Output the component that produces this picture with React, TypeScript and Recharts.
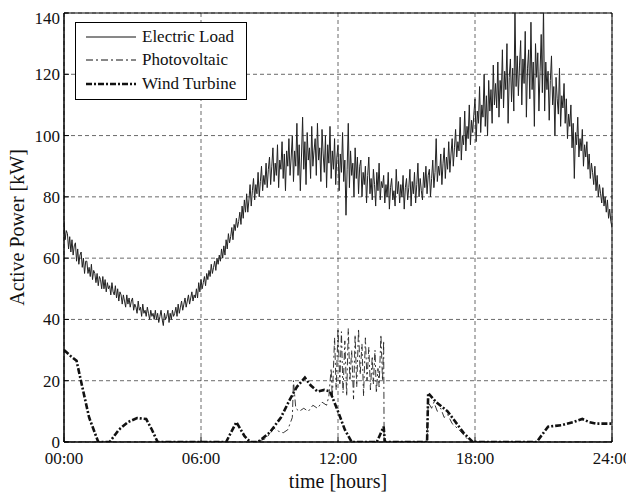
import { LineChart, Line, XAxis, YAxis, CartesianGrid, Legend, ReferenceArea, Label } from "recharts"

// electric load, one value every 3 minutes (20 per hour) from 00:00 to 24:00
const electricLoad = [
  72, 66, 69, 68, 63, 67, 62, 66, 61, 64, 65, 59, 63, 58, 61, 62, 57, 60, 55, 59,
  59, 55, 57, 54, 58, 53, 56, 55, 52, 55, 51, 54, 53, 50, 54, 50, 53, 49, 52, 50,
  51, 48, 52, 49, 48, 51, 47, 50, 46, 49, 48, 45, 48, 46, 44, 48, 45, 47, 44, 46,
  47, 43, 45, 44, 42, 46, 43, 44, 41, 45, 42, 43, 41, 44, 42, 40, 43, 41, 42, 40,
  43, 40, 42, 39, 41, 43, 40, 38, 42, 40, 41, 43, 39, 42, 40, 43, 41, 42, 44, 41,
  45, 42, 44, 46, 43, 45, 47, 44, 46, 48, 45, 47, 49, 46, 48, 47, 50, 47, 52, 49,
  53, 50, 52, 54, 51, 55, 53, 56, 54, 58, 55, 57, 59, 56, 60, 58, 61, 59, 63, 60,
  64, 61, 66, 63, 68, 65, 67, 70, 66, 71, 69, 73, 70, 72, 75, 71, 77, 73, 79, 75,
  81, 75, 79, 84, 77, 82, 86, 79, 84, 81, 88, 80, 85, 90, 82, 87, 84, 91, 83, 89,
  93, 84, 90, 96, 85, 91, 87, 97, 83, 92, 89, 98, 86, 94, 82, 95, 90, 99, 87, 93,
  100, 85, 95, 90, 104, 87, 97, 82, 93, 106, 89, 98, 84, 101, 92, 96, 86, 103, 90, 95,
  99, 87, 104, 92, 96, 85, 102, 94, 88, 100, 83, 97, 91, 103, 86, 95, 89, 99, 84, 93,
  97, 82, 94, 88, 101, 85, 92, 74, 89, 104, 83, 95, 87, 91, 80, 96, 86, 93, 81, 90,
  92, 80, 88, 84, 90, 78, 87, 93, 81, 86, 79, 89, 84, 77, 88, 82, 91, 79, 85, 83,
  87, 78, 84, 80, 88, 76, 83, 86, 79, 82, 77, 89, 81, 85, 78, 84, 80, 87, 76, 83,
  86, 79, 83, 89, 77, 85, 81, 88, 78, 84, 91, 80, 86, 82, 79, 88, 83, 90, 81, 87,
  89, 80, 86, 92, 83, 88, 99, 85, 90, 87, 94, 84, 91, 96, 86, 93, 89, 98, 88, 94,
  99, 90, 96, 102, 93, 98, 95, 106, 92, 100, 97, 108, 95, 103, 99, 110, 97, 105, 101, 107,
  112, 98, 108, 104, 116, 101, 110, 106, 120, 103, 113, 100, 118, 108, 115, 104, 123, 110, 117, 109,
  124, 106, 118, 112, 128, 109, 121, 115, 130, 104, 119, 125, 111, 122, 108, 141, 116, 126, 113, 123,
  131, 110, 125, 117, 134, 106, 122, 128, 112, 137, 115, 124, 103, 130, 119, 127, 108, 121, 133, 114,
  142, 108, 124, 115, 121, 105, 118, 126, 110, 116, 100, 119, 112, 107, 122, 103, 113, 109, 117, 104,
  112, 99, 107, 103, 110, 96, 104, 86, 101, 97, 106, 93, 99, 95, 102, 90, 97, 93, 98, 89,
  94, 86, 91, 88, 84, 90, 82, 87, 80, 84, 81, 78, 83, 77, 80, 75, 79, 73, 76, 72,
  70,
]

const pvHours = [
  0, 8.4, 8.8, 9.0, 9.2, 9.4, 9.6, 9.8, 10.0, 10.05, 10.15, 10.3, 10.5, 10.7, 10.9, 11.1, 11.3, 11.5,
  11.6, 11.7, 11.75, 11.85, 11.92, 12.0, 12.08, 12.15, 12.22, 12.3, 12.38, 12.45, 12.52, 12.6, 12.68,
  12.75, 12.82, 12.9, 12.97, 13.05, 13.12, 13.2, 13.27, 13.35, 13.42, 13.5, 13.55, 13.62, 13.68, 13.75,
  13.8, 13.88, 13.95, 14.0, 14.02, 15.9, 15.95, 16.1, 16.2, 16.35, 16.5, 16.65, 16.8, 17.0, 17.3, 17.6,
  17.8, 24,
]
const pvValues = [
  0, 0, 1, 2.5, 4.5, 3.5, 3, 4, 8, 20, 11, 10, 11, 10, 12, 11, 13, 12,
  15, 24, 14, 34, 17, 37, 19, 36, 16, 33, 15, 37, 20, 30, 14,
  35, 18, 37, 22, 32, 15, 34, 20, 31, 17, 28, 19, 30, 16, 24,
  18, 35, 20, 33, 0, 0, 13, 11, 13, 10, 11, 8, 9, 6, 4, 1.5,
  0, 0,
]

const windHours = [
  0, 0.3, 0.55, 0.8, 1.1, 1.5, 2.0, 2.4, 2.8, 3.2, 3.6, 3.85, 4.1, 7.1, 7.55, 7.9, 8.15, 8.5, 9.0, 9.5,
  9.9, 10.2, 10.55, 10.8, 11.1, 11.4, 11.65, 12.0, 12.3, 12.6, 13.7, 14.0, 14.05, 15.9, 15.95, 16.3,
  16.8, 17.1, 17.5, 17.9, 20.7, 21.2, 21.8, 22.3, 22.7, 23.0, 23.3, 24,
]
const windValues = [
  30, 28, 26.5, 18, 8, 0, 0, 4, 6.5, 7.8, 7.5, 4, 0, 0, 6.5, 2, 0, 0, 3, 8,
  14, 18, 21, 18.5, 16.5, 17, 16.5, 10, 4, 0, 0, 5, 0, 0, 16, 13,
  10, 7, 3, 0, 0, 5, 5.5, 6.5, 7.5, 6.5, 6, 6,
]

const hourTicks = [0, 6, 12, 18, 24]
const powerTicks = [0, 20, 40, 60, 80, 100, 120, 140]

const loadData = electricLoad.map((v, i) => ({ t: i / 20, v }))
const pvData = pvHours.map((t, i) => ({ t, v: pvValues[i] }))
const windData = windHours.map((t, i) => ({ t, v: windValues[i] }))

const font = "Liberation Serif, Times New Roman, DejaVu Serif, serif"

const legendItems = [
  { label: "Electric Load", width: 1, dash: undefined },
  { label: "Photovoltaic", width: 1, dash: "7 3 2 3" },
  { label: "Wind Turbine", width: 2.6, dash: "6 2 2 2" },
]

const LegendBox = () => (
  <div
    style={{
      width: 170,
      height: 74,
      border: "1px solid #000",
      background: "#fff",
      fontFamily: font,
      fontSize: 17,
      color: "#111",
      paddingTop: 2,
    }}
  >
    {legendItems.map((item) => (
      <div key={item.label} style={{ display: "flex", alignItems: "center", height: 23.5 }}>
        <svg width={66} height={10} style={{ flex: "none" }}>
          <line
            x1={10}
            x2={60}
            y1={5}
            y2={5}
            stroke="#111"
            strokeWidth={item.width}
            strokeDasharray={item.dash}
          />
        </svg>
        <span style={{ lineHeight: "20px" }}>{item.label}</span>
      </div>
    ))}
  </div>
)

const YTitle = (props: any) => {
  const { viewBox } = props
  const cy = viewBox.y + viewBox.height / 2
  return (
    <text
      x={9}
      y={cy}
      transform={`rotate(-90, 9, ${cy})`}
      textAnchor="middle"
      dominantBaseline="central"
      fontFamily={font}
      fontSize={20}
      fill="#111"
    >
      Active Power [kW]
    </text>
  )
}

export default function App() {
  return (
    <LineChart width={626} height={487} margin={{ top: 5, right: 22, bottom: 8, left: 0 }}>
      <CartesianGrid stroke="#444" strokeDasharray="4 3" strokeWidth={0.8} />
      <XAxis
        dataKey="t"
        type="number"
        domain={[0, 24]}
        ticks={hourTicks}
        allowDataOverflow
        height={45}
        tickSize={-5}
        tickMargin={15}
        stroke="#000"
        tick={{ fill: "#111", fontSize: 17, fontFamily: font }}
        tickFormatter={(h: number) => `${String(h).padStart(2, "0")}:00`}
      >
        <Label
          value="time [hours]"
          position="insideBottom"
          offset={-1}
          style={{ fontFamily: font, fontSize: 20, fill: "#111" }}
        />
      </XAxis>
      <YAxis
        type="number"
        domain={[0, 140]}
        ticks={powerTicks}
        allowDataOverflow
        width={56}
        tickSize={-5}
        tickMargin={9}
        stroke="#000"
        tick={{ fill: "#111", fontSize: 17, fontFamily: font }}
      >
        <Label content={<YTitle />} />
      </YAxis>
      <Legend
        layout="horizontal"
        verticalAlign="middle"
        align="center"
        content={<LegendBox />}
        wrapperStyle={{ left: 67, top: 14, width: 172, height: 76 }}
      />
      <Line
        data={loadData}
        dataKey="v"
        name="Electric Load"
        stroke="#222"
        strokeWidth={1}
        dot={false}
        isAnimationActive={false}
      />
      <Line
        data={pvData}
        dataKey="v"
        name="Photovoltaic"
        stroke="#222"
        strokeWidth={0.9}
        strokeDasharray="7 3 2 3"
        dot={false}
        isAnimationActive={false}
      />
      <Line
        data={windData}
        dataKey="v"
        name="Wind Turbine"
        stroke="#111"
        strokeWidth={2.6}
        strokeDasharray="6 2 2 2"
        dot={false}
        isAnimationActive={false}
      />
      <ReferenceArea x1={0} x2={24} y1={0} y2={140} fill="none" stroke="#000" strokeWidth={1} />
    </LineChart>
  )
}
